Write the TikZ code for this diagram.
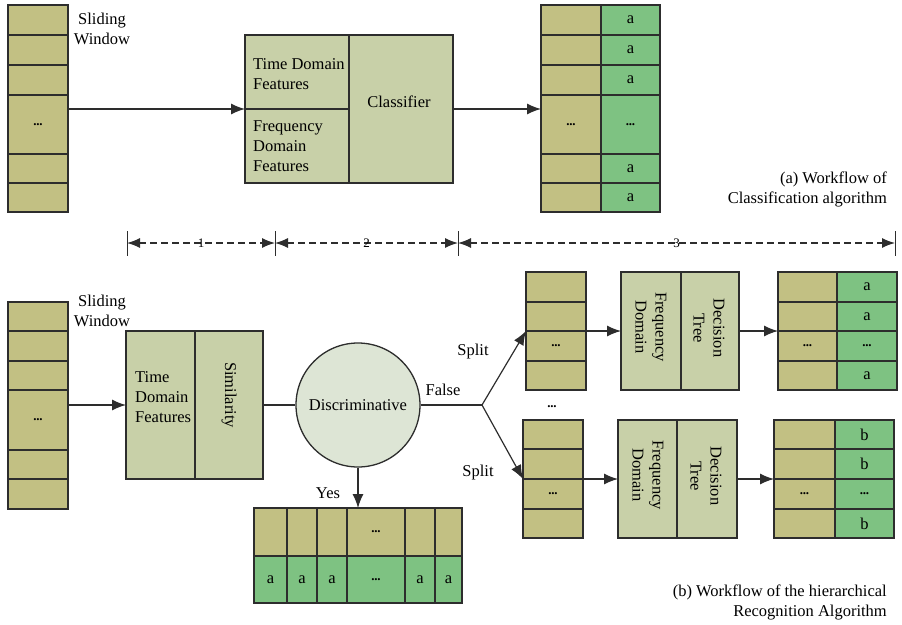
\documentclass[tikz,border=0pt]{standalone}
\usepackage{fontspec}
\setmainfont{Liberation Serif}
\usetikzlibrary{arrows.meta,calc}
\definecolor{khaki}{RGB}{194,192,131}
\definecolor{sage}{RGB}{200,208,168}
\definecolor{lgreen}{RGB}{126,194,130}
\definecolor{discfill}{RGB}{221,229,213}
\definecolor{edge}{RGB}{45,45,45}
\newcommand\cellbox[7]{\node[cell,fill=#6,anchor=north west,minimum width={(#4-#2)*1pt},minimum height={(#5-#3)*1pt}] (#1) at (#2,#3) {#7};}
\newcommand\dotsy{{\fontsize{13}{13}\selectfont\bfseries .\kern-0.3pt.\kern-0.3pt.}}
\begin{document}
\begin{tikzpicture}[x=1pt,y=-1pt, font=\fontsize{16.5}{20}\selectfont,
 cell/.style={draw=edge,line width=1.3pt,inner sep=0pt,outer sep=0pt},
 arr/.style={draw=edge, line width=1.2pt, -{Latex[length=14pt,width=11pt]}},
 link/.style={draw=edge, line width=1.2pt},
 dim/.style={draw=edge, line width=1.2pt, dash pattern=on 7pt off 4pt, {Latex[length=13pt,width=10pt]}-{Latex[length=13pt,width=10pt]}},
 txt/.style={inner sep=0pt, align=left},
 rtxt/.style={inner sep=0pt, align=center, rotate=-90},
 lbl/.style={inner sep=0pt, align=center},
 diml/.style={inner sep=0pt, font=\fontsize{13}{13}\selectfont},
]
\useasboundingbox (0,0) rectangle (902,624);

% ---------- (a) top ----------
\cellbox{sa1}{8}{5}{68}{35}{khaki}{}
\cellbox{sa2}{8}{35}{68}{65}{khaki}{}
\cellbox{sa3}{8}{65}{68}{95}{khaki}{}
\cellbox{sa4}{8}{95}{68}{154}{khaki}{\dotsy}
\cellbox{sa5}{8}{154}{68}{183}{khaki}{}
\cellbox{sa6}{8}{183}{68}{212}{khaki}{}
\node[lbl] (swa) at (102,29) {Sliding\\Window};

\cellbox{ftd}{245}{35}{349}{109}{sage}{}
\cellbox{ffd}{245}{109}{349}{183}{sage}{}
\cellbox{cls}{349}{35}{453}{183}{sage}{}
\node[lbl] (clst) at (399,102) {Classifier};
\node[txt,anchor=west] (tdt) at (253,74) {Time Domain\\Features};
\node[txt,anchor=west] (fdt) at (253,146) {Frequency\\Domain\\Features};

\cellbox{ra1}{541}{5}{601}{35}{khaki}{}
\cellbox{ra2}{541}{35}{601}{65}{khaki}{}
\cellbox{ra3}{541}{65}{601}{95}{khaki}{}
\cellbox{ra4}{541}{95}{601}{154}{khaki}{\dotsy}
\cellbox{ra5}{541}{154}{601}{183}{khaki}{}
\cellbox{ra6}{541}{183}{601}{212}{khaki}{}
\cellbox{ga1}{601}{5}{660}{35}{lgreen}{a}
\cellbox{ga2}{601}{35}{660}{65}{lgreen}{a}
\cellbox{ga3}{601}{65}{660}{95}{lgreen}{a}
\cellbox{ga4}{601}{95}{660}{154}{lgreen}{\dotsy}
\cellbox{ga5}{601}{154}{660}{183}{lgreen}{a}
\cellbox{ga6}{601}{183}{660}{212}{lgreen}{a}

\draw[arr] (ftd.south west -| sa4.east) -- (ftd.south west);
\draw[arr] (cls.east) -- (cls.east -| ra4.west);

\node[inner sep=0pt,align=right,anchor=east] (capa) at (887,189.5) {(a) Workflow of\\Classification algorithm};

% ---------- dimension line ----------
\coordinate (d1) at (127,243);
\coordinate (d2) at (275,243);
\coordinate (d3) at (458,243);
\coordinate (d4) at (895,243);
\foreach \d in {d1,d2,d3,d4} \draw[draw=edge,line width=1pt] ([yshift=12pt]\d) -- ([yshift=-13pt]\d);
\draw[dim] (d1) -- (d2) node[midway,diml] (n1) {1};
\draw[dim] (d2) -- (d3) node[midway,diml] (n2) {2};
\draw[dim] (d3) -- (d4) node[midway,diml] (n3) {3};

% ---------- (b) bottom ----------
\cellbox{sb1}{8}{302}{68}{331}{khaki}{}
\cellbox{sb2}{8}{331}{68}{361}{khaki}{}
\cellbox{sb3}{8}{361}{68}{390}{khaki}{}
\cellbox{sb4}{8}{390}{68}{450}{khaki}{\dotsy}
\cellbox{sb5}{8}{450}{68}{479}{khaki}{}
\cellbox{sb6}{8}{479}{68}{509}{khaki}{}
\node[lbl] (swb) at (102,310.5) {Sliding\\Window};

\cellbox{tdf}{126}{331}{195}{479}{sage}{}
\cellbox{sim}{195}{331}{263}{479}{sage}{}
\node[txt,anchor=west] (tdft) at (135,397) {Time\\Domain\\Features};
\node[rtxt] (simt) at (229,395) {Similarity};
\draw[arr] (tdf.west -| sb4.east) -- (tdf.west);

\node[circle,draw=edge,line width=1.3pt,fill=discfill,minimum size=124pt,inner sep=0pt] (disc) at (358,405) {Discriminative};
\draw[link] (sim.east) -- (disc.west);
\coordinate (jn) at (482,405);
\draw[link] (disc.east) -- (jn);
\node[lbl] (false) at (443,390) {False};
\node[lbl] (split1) at (473,352) {Split};
\node[lbl] (split2) at (478,473) {Split};
\node[lbl] (yes) at (328,493) {Yes};

% bottom table
\cellbox{bt1}{254}{508}{287}{556}{khaki}{}
\cellbox{bt2}{287}{508}{317}{556}{khaki}{}
\cellbox{bt3}{317}{508}{347}{556}{khaki}{}
\cellbox{bt4}{347}{508}{405}{556}{khaki}{\dotsy}
\cellbox{bt5}{405}{508}{435}{556}{khaki}{}
\cellbox{bt6}{435}{508}{462}{556}{khaki}{}
\cellbox{bb1}{254}{556}{287}{603}{lgreen}{a}
\cellbox{bb2}{287}{556}{317}{603}{lgreen}{a}
\cellbox{bb3}{317}{556}{347}{603}{lgreen}{a}
\cellbox{bb4}{347}{556}{405}{603}{lgreen}{\dotsy}
\cellbox{bb5}{405}{556}{435}{603}{lgreen}{a}
\cellbox{bb6}{435}{556}{462}{603}{lgreen}{a}
\draw[arr] (disc.south) -- (disc.south |- bt4.north);

% upper right branch
\cellbox{u1}{526}{272}{586}{302}{khaki}{}
\cellbox{u2}{526}{302}{586}{331}{khaki}{}
\cellbox{u3}{526}{331}{586}{361}{khaki}{\dotsy}
\cellbox{u4}{526}{361}{586}{390}{khaki}{}
\cellbox{ufd}{621}{272}{681}{390}{sage}{}
\cellbox{udt}{681}{272}{739}{390}{sage}{}
\node[rtxt] (ufdt) at (651,327) {Frequency\\Domain};
\node[rtxt] (udtt) at (709,328) {Decision\\Tree};
\cellbox{ur1}{778}{272}{837}{302}{khaki}{}
\cellbox{ur2}{778}{302}{837}{331}{khaki}{}
\cellbox{ur3}{778}{331}{837}{361}{khaki}{\dotsy}
\cellbox{ur4}{778}{361}{837}{390}{khaki}{}
\cellbox{ug1}{837}{272}{897}{302}{lgreen}{a}
\cellbox{ug2}{837}{302}{897}{331}{lgreen}{a}
\cellbox{ug3}{837}{331}{897}{361}{lgreen}{\dotsy}
\cellbox{ug4}{837}{361}{897}{390}{lgreen}{a}
\draw[arr] (u2.south east) -- (ufd.west);
\draw[arr] (udt.east) -- (udt.east -| ur1.west);

\node[lbl] (mdots) at (552,407) {\dotsy};

% lower right branch
\cellbox{l1}{523}{420}{583}{449}{khaki}{}
\cellbox{l2}{523}{449}{583}{479}{khaki}{}
\cellbox{l3}{523}{479}{583}{509}{khaki}{\dotsy}
\cellbox{l4}{523}{509}{583}{538}{khaki}{}
\cellbox{lfd}{618}{420}{677}{538}{sage}{}
\cellbox{ldt}{677}{420}{737}{538}{sage}{}
\node[rtxt] (lfdt) at (648,475) {Frequency\\Domain};
\node[rtxt] (ldtt) at (706,476) {Decision\\Tree};
\cellbox{lr1}{774}{420}{835}{449}{khaki}{}
\cellbox{lr2}{774}{449}{835}{479}{khaki}{}
\cellbox{lr3}{774}{479}{835}{509}{khaki}{\dotsy}
\cellbox{lr4}{774}{509}{835}{538}{khaki}{}
\cellbox{lg1}{835}{420}{894}{449}{lgreen}{b}
\cellbox{lg2}{835}{449}{894}{479}{lgreen}{b}
\cellbox{lg3}{835}{479}{894}{509}{lgreen}{\dotsy}
\cellbox{lg4}{835}{509}{894}{538}{lgreen}{b}
\draw[arr] (l2.south east) -- (lfd.west);
\draw[arr] (ldt.east) -- (ldt.east -| lr1.west);

\draw[arr] (jn) -- (u2.south west);
\draw[arr] (jn) -- (l2.south west);

\node[inner sep=0pt,align=right,anchor=east] (capb) at (887,602) {(b) Workflow of the hierarchical\\Recognition Algorithm};
\end{tikzpicture}
\end{document}
